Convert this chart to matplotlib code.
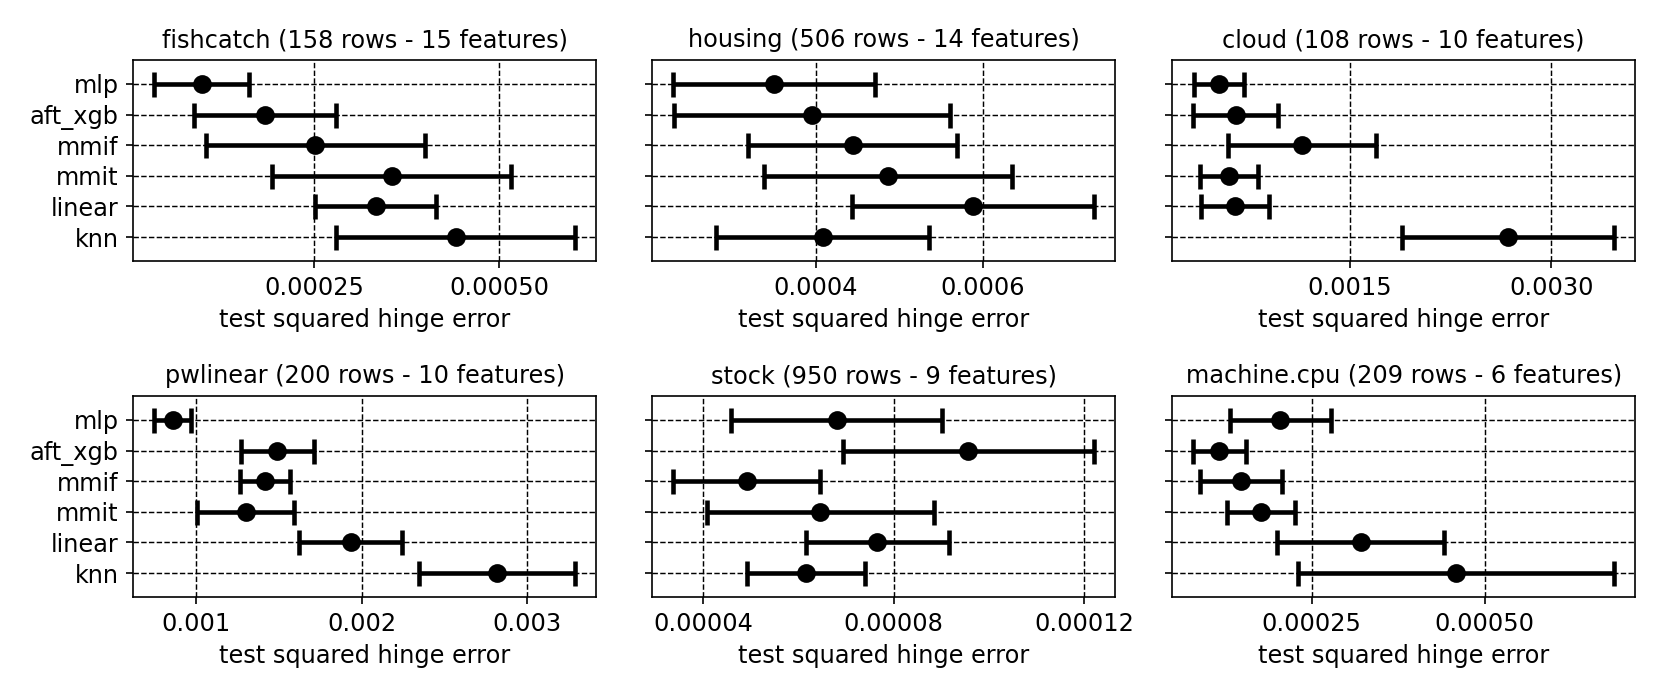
import matplotlib
matplotlib.use("Agg")
import matplotlib.pyplot as plt

# ------------------------------------
# DATA (mean and half-width of interval per model)
# ------------------------------------
MODELS = ["mlp", "aft_xgb", "mmif", "mmit", "linear", "knn"]

TITLES = [
    "fishcatch (158 rows - 15 features)",
    "housing (506 rows - 14 features)",
    "cloud (108 rows - 10 features)",
    "pwlinear (200 rows - 10 features)",
    "stock (950 rows - 9 features)",
    "machine.cpu (209 rows - 6 features)",
]

fishcatch_mean = [0.0000980, 0.0001837, 0.0002515, 0.0003546, 0.0003330, 0.0004410]
fishcatch_err = [0.0000640, 0.0000957, 0.0001475, 0.0001615, 0.0000815, 0.0001615]

housing_mean = [0.0003500, 0.0003953, 0.0004440, 0.0004862, 0.0005880, 0.0004080]
housing_err = [0.0001208, 0.0001652, 0.0001255, 0.0001488, 0.0001450, 0.0001277]

cloud_mean = [0.000522, 0.000648, 0.001138, 0.000594, 0.000642, 0.002678]
cloud_err = [0.000183, 0.000317, 0.000551, 0.000216, 0.000254, 0.000789]

pwlinear_mean = [0.000860, 0.001491, 0.001414, 0.001300, 0.001933, 0.002817]
pwlinear_err = [0.000112, 0.000218, 0.000150, 0.000292, 0.000313, 0.000472]

stock_mean = [0.0000680, 0.0000957, 0.0000491, 0.0000646, 0.0000766, 0.0000615]
stock_err = [0.0000221, 0.0000264, 0.0000154, 0.0000238, 0.0000150, 0.0000124]

cpu_mean = [0.0002050, 0.0001170, 0.0001478, 0.0001766, 0.0003210, 0.0004590]
cpu_err = [0.0000730, 0.0000377, 0.0000590, 0.0000490, 0.0001203, 0.0002280]

MEANS = [fishcatch_mean, housing_mean, cloud_mean, pwlinear_mean, stock_mean, cpu_mean]
ERRS = [fishcatch_err, housing_err, cloud_err, pwlinear_err, stock_err, cpu_err]

XTICKS = [
    [0.00025, 0.00050],
    [0.0004, 0.0006],
    [0.0015, 0.0030],
    [0.001, 0.002, 0.003],
    [0.00004, 0.00008, 0.00012],
    [0.00025, 0.00050],
]
XTICKLABELS = [
    ["0.00025", "0.00050"],
    ["0.0004", "0.0006"],
    ["0.0015", "0.0030"],
    ["0.001", "0.002", "0.003"],
    ["0.00004", "0.00008", "0.00012"],
    ["0.00025", "0.00050"],
]

# ------------------------------------
# LAYOUT (figure fractions)
# ------------------------------------
COL_X = [0.0803, 0.3927, 0.7058]
AX_W = 0.2786
ROW_Y = [0.6266, 0.1459]
AX_H = 0.2876

FONT = 11.5

fig = plt.figure(figsize=(1661 / 150, 699 / 150), dpi=150)

y_pos = list(range(len(MODELS)))

for i in range(6):
    row, col = divmod(i, 3)
    ax = fig.add_axes([COL_X[col], ROW_Y[row], AX_W, AX_H])

    ax.errorbar(
        MEANS[i], y_pos, xerr=ERRS[i],
        fmt="o", color="black", markersize=8,
        elinewidth=2.2, capsize=6, capthick=2.2,
    )

    ax.set_ylim(len(MODELS) - 1 + 0.78, -0.78)
    ax.set_yticks(y_pos)
    if col == 0:
        ax.set_yticklabels(MODELS, fontsize=FONT)
    else:
        ax.set_yticklabels([])

    ax.set_xticks(XTICKS[i])
    ax.set_xticklabels(XTICKLABELS[i], fontsize=FONT)
    ax.set_xlabel("test squared hinge error", fontsize=FONT)
    ax.set_title(TITLES[i], fontsize=FONT)

    ax.grid(True, color="black", linestyle="--", linewidth=0.7)
    ax.set_axisbelow(True)

fig.savefig("out.png", dpi=150)
